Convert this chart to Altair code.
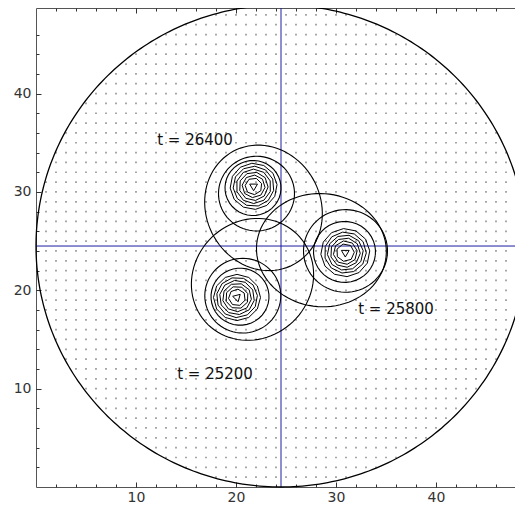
import altair as alt
import numpy as np
import pandas as pd

# ---------------- data ----------------
X_DOMAIN = [0, 47.9]
Y_DOMAIN = [0, 48.7]
LABEL_TICKS = [10, 20, 30, 40]
MINOR_TICKS = list(range(2, 48, 2))
MAJOR_TICKS = [10, 20, 30, 40]

DISK_CX, DISK_CY, DISK_R = 24.5, 24.5, 24.5
DOT_STEP = 1

TEXTS = ["t = 26400", "t = 25800", "t = 25200"]
TEXT_X = [15.9, 36.0, 17.9]
TEXT_Y = [35.25, 18.1, 11.5]

# contour rings: snapshot, centre, semi-axes, rotation (deg), sides, phase (deg)
RING_SNAP = (["26400"] * 10) + (["25800"] * 10) + (["25200"] * 10)
RING_CX = [22.75, 22.05, 21.70, 21.76, 21.76, 21.76, 21.76, 21.76, 21.76, 21.76,
           28.54, 30.95, 30.85, 30.93, 30.93, 30.93, 30.93, 30.93, 30.93, 30.93,
           21.65, 20.68, 20.40, 20.10, 20.10, 20.10, 20.10, 20.10, 20.10, 20.10]
RING_CY = [28.38, 29.83, 30.40, 30.57, 30.57, 30.57, 30.57, 30.57, 30.57, 30.57,
           24.08, 24.00, 23.90, 23.83, 23.83, 23.83, 23.83, 23.83, 23.83, 23.83,
           21.11, 19.45, 19.35, 19.27, 19.27, 19.27, 19.27, 19.27, 19.27, 19.27]
RING_A = ([6.5, 3.8, 2.8, 2.35, 2.05, 1.75, 1.45, 1.15, 0.85, 0.45] +
          [6.5, 4.2, 3.1, 2.45, 2.1, 1.8, 1.5, 1.2, 0.9, 0.45] +
          [6.4, 3.8, 2.9, 2.35, 2.05, 1.75, 1.45, 1.15, 0.85, 0.45])
RING_B = ([5.75, 3.8, 2.8, 2.35, 2.05, 1.75, 1.45, 1.15, 0.85, 0.45] +
          [5.75, 4.2, 3.1, 2.45, 2.1, 1.8, 1.5, 1.2, 0.9, 0.45] +
          [5.9, 3.8, 2.9, 2.35, 2.05, 1.75, 1.45, 1.15, 0.85, 0.45])
RING_ROT = [114.3] * 10 + [-5.9] * 10 + [229.9] * 10
RING_SIDES = [90, 72, 40, 12, 11, 10, 9, 8, 7, 3] * 3
RING_PHASE = ([0, 0, 0, 10, 5, 12, 3, 15, 8, 30 - 114.3] +
              [0, 0, 0, 10, 5, 12, 3, 15, 8, 30 + 5.9] +
              [0, 0, 0, 10, 5, 12, 3, 15, 8, 45 - 229.9])

# ---------------- build tables ----------------
gx, gy = np.meshgrid(np.arange(1, 49, DOT_STEP), np.arange(1, 49, DOT_STEP))
inside = (gx - DISK_CX) ** 2 + (gy - DISK_CY) ** 2 <= DISK_R ** 2
dots = pd.DataFrame({"x": gx[inside], "y": gy[inside]})

t = np.linspace(0, 2 * np.pi, 361)
disk = pd.DataFrame({"x": DISK_CX + DISK_R * np.cos(t),
                     "y": DISK_CY + DISK_R * np.sin(t),
                     "i": np.arange(len(t))})

rows = []
for k in range(len(RING_CX)):
    n = RING_SIDES[k]
    th = np.deg2rad(RING_ROT[k])
    tt = np.deg2rad(RING_PHASE[k]) + np.linspace(0, 2 * np.pi, n + 1)
    px = RING_A[k] * np.cos(tt)
    py = RING_B[k] * np.sin(tt)
    xs = RING_CX[k] + px * np.cos(th) - py * np.sin(th)
    ys = RING_CY[k] + px * np.sin(th) + py * np.cos(th)
    for j, (xv, yv) in enumerate(zip(xs, ys)):
        rows.append({"ring": f"{RING_SNAP[k]}-{k}", "x": xv, "y": yv, "i": j,
                     "outer": RING_SIDES[k] >= 40})
rings = pd.DataFrame(rows)
outer = rings[rings["outer"]]
inner = rings[~rings["outer"]]

texts = pd.DataFrame({"x": TEXT_X, "y": TEXT_Y, "label": TEXTS})
vline = pd.DataFrame({"x": [DISK_CX]})
hline = pd.DataFrame({"y": [DISK_CY]})

# ---------------- scales / axes ----------------
FONT = "DejaVu Sans"
xs_ = alt.Scale(domain=X_DOMAIN, nice=False, zero=False)
ys_ = alt.Scale(domain=Y_DOMAIN, nice=False, zero=False)

def tick_axis(orient, values, size):
    return alt.Axis(orient=orient, values=values, offset=-size, tickSize=size,
                    domain=False, labels=False, grid=False, title=None,
                    tickColor="#333333", tickWidth=1)

ax_bottom_main = alt.Axis(orient="bottom", values=LABEL_TICKS, ticks=False,
                          domain=True, domainColor="#555555", domainWidth=1,
                          labelFont=FONT, labelFontSize=14, labelColor="#333333",
                          labelPadding=3, grid=False, title=None)
ax_left_main = alt.Axis(orient="left", values=LABEL_TICKS, ticks=False,
                        domain=True, domainColor="#555555", domainWidth=1,
                        labelFont=FONT, labelFontSize=14, labelColor="#333333",
                        labelPadding=5, grid=False, title=None)
ax_top_domain = alt.Axis(orient="top", ticks=False, labels=False, domain=True,
                         domainColor="#555555", domainWidth=1, grid=False, title=None)

dots_layer = alt.Chart(dots).mark_square(size=3, color="#999999", opacity=1).encode(
    x=alt.X("x:Q", scale=xs_, axis=ax_bottom_main),
    y=alt.Y("y:Q", scale=ys_, axis=ax_left_main),
)

disk_layer = alt.Chart(disk).mark_line(color="black", strokeWidth=1.3).encode(
    x=alt.X("x:Q", scale=xs_, axis=tick_axis("bottom", MINOR_TICKS, 3)),
    y=alt.Y("y:Q", scale=ys_, axis=tick_axis("left", MINOR_TICKS, 3)),
    order="i:Q",
)

vline_layer = alt.Chart(vline).mark_rule(color="#1c1ca0", strokeWidth=1).encode(
    x=alt.X("x:Q", scale=xs_, axis=tick_axis("bottom", MAJOR_TICKS, 5)),
)

hline_layer = alt.Chart(hline).mark_rule(color="#1c1ca0", strokeWidth=1).encode(
    y=alt.Y("y:Q", scale=ys_, axis=tick_axis("left", MAJOR_TICKS, 5)),
)

outer_layer = alt.Chart(outer).mark_line(color="black", strokeWidth=1.1).encode(
    x=alt.X("x:Q", scale=xs_, axis=ax_top_domain),
    y=alt.Y("y:Q", scale=ys_, axis=None),
    detail="ring:N",
    order="i:Q",
)

inner_layer = alt.Chart(inner).mark_line(color="black", strokeWidth=1.0).encode(
    x=alt.X("x:Q", scale=xs_, axis=tick_axis("top", MINOR_TICKS, 3)),
    y=alt.Y("y:Q", scale=ys_, axis=None),
    detail="ring:N",
    order="i:Q",
)

text_layer = alt.Chart(texts).mark_text(font=FONT, fontSize=15, color="#111111",
                                        align="center", baseline="middle").encode(
    x=alt.X("x:Q", scale=xs_, axis=tick_axis("top", MAJOR_TICKS, 5)),
    y=alt.Y("y:Q", scale=ys_, axis=None),
    text="label:N",
)

chart = alt.layer(
    dots_layer, hline_layer, vline_layer, disk_layer, outer_layer, inner_layer, text_layer
).resolve_axis(x="independent", y="independent").properties(
    width=479, height=479,
    autosize=alt.AutoSizeParams(type="none"),
    padding={"left": 28, "top": 0, "right": 0, "bottom": 19},
).configure_view(stroke=None)

chart.save("out.html", embed_options={"renderer": "svg", "actions": False})
